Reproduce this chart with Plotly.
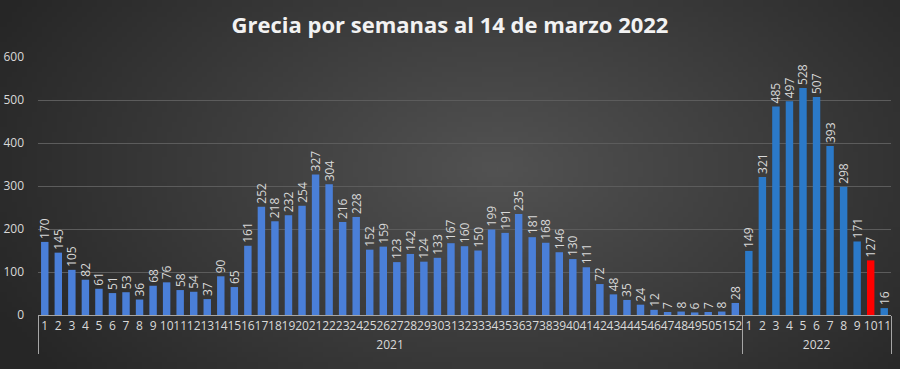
import base64, struct, zlib
import plotly.graph_objects as go

# ---- data ----
weeks_2021 = [str(i) for i in range(1, 53)]
values_2021 = [170, 145, 105, 82, 61, 51, 53, 36, 68, 76, 58, 54, 37, 90, 65, 161,
               252, 218, 232, 254, 327, 304, 216, 228, 152, 159, 123, 142, 124, 133,
               167, 160, 150, 199, 191, 235, 181, 168, 146, 130, 111, 72, 48, 35, 24,
               12, 7, 8, 6, 7, 8, 28]
weeks_2022 = [str(i) for i in range(1, 12)]
values_2022 = [149, 321, 485, 497, 528, 507, 393, 298, 171, 127, 16]
highlight_week_2022 = "10"

title_text = "Grecia por semanas al 14 de marzo 2022"

# ---- background gradient (radial) as png ----
def make_png(w, h):
    rows = []
    cx, cy = 0.55 * w, 0.45 * h
    for j in range(h):
        row = bytearray([0])
        for i in range(w):
            dx = (i - cx) / (0.62 * w)
            dy = (j - cy) / (0.9 * h)
            d = min(1.0, (dx * dx + dy * dy) ** 0.5)
            v = int(round(0x52 + (0x26 - 0x52) * d))
            row += bytes([v, v, v])
        rows.append(bytes(row))
    raw = b"".join(rows)
    def chunk(t, data):
        c = struct.pack(">I", len(data)) + t + data
        return c + struct.pack(">I", zlib.crc32(t + data) & 0xffffffff)
    png = b"\x89PNG\r\n\x1a\n" + chunk(b"IHDR", struct.pack(">IIBBBBB", w, h, 8, 2, 0, 0, 0))
    png += chunk(b"IDAT", zlib.compress(raw, 9)) + chunk(b"IEND", b"")
    return "data:image/png;base64," + base64.b64encode(png).decode()

bg = make_png(180, 74)

W, H = 900, 369
ML, MR, MT, MB = 38, 9, 57, 54
PW, PH = W - ML - MR, H - MT - MB

fig = go.Figure()
fig.add_trace(go.Bar(
    x=[["2021"] * len(weeks_2021), weeks_2021], y=values_2021,
    marker=dict(color="#4a7fd8", line=dict(width=0)),
    texttemplate="%{y}", textposition="outside", textangle=-90,
    textfont=dict(color="#d9d9d9", size=12, family="Open Sans"),
    constraintext="none", cliponaxis=False, showlegend=False, hoverinfo="y"))
colors_2022 = ["#ff0000" if w == highlight_week_2022 else "#2b79c8" for w in weeks_2022]
fig.add_trace(go.Bar(
    x=[["2022"] * len(weeks_2022), weeks_2022], y=values_2022,
    marker=dict(color=colors_2022, line=dict(width=0)),
    texttemplate="%{y}", textposition="outside", textangle=-90,
    textfont=dict(color="#d9d9d9", size=12, family="Open Sans"),
    constraintext="none", cliponaxis=False, showlegend=False, hoverinfo="y"))

fig.update_layout(
    width=W, height=H,
    margin=dict(l=ML, r=MR, t=MT, b=MB, autoexpand=False),
    paper_bgcolor="#3a3a3a", plot_bgcolor="rgba(0,0,0,0)",
    bargap=0.45,
    title=dict(text="<b>" + title_text + "</b>", x=0.5, xanchor="center",
               y=1 - 25 / H, yanchor="middle", automargin=False,
               font=dict(family="Open Sans", size=22, color="#f2f2f2")),
    font=dict(family="Open Sans", color="#d9d9d9", size=12),
    images=[dict(source=bg, xref="paper", yref="paper",
                 x=-ML / PW, y=1 + MT / PH, sizex=W / PW, sizey=H / PH,
                 xanchor="left", yanchor="top", sizing="stretch", layer="below")],
)
fig.update_yaxes(range=[0, 600], dtick=100, showgrid=True, gridcolor="#5c5c5c",
                 gridwidth=1, zeroline=False, showline=False, automargin=False,
                 tickfont=dict(color="#d9d9d9", size=12), ticklabelstandoff=13)
fig.update_xaxes(type="multicategory", showline=True, linecolor="#a6a6a6", linewidth=1,
                 showdividers=True, dividercolor="#a6a6a6", dividerwidth=1,
                 tickangle=0, automargin=False, nticks=200,
                 tickfont=dict(color="#d9d9d9", size=12), showgrid=False, ticks="")

fig.write_html("out.html", config={"displayModeBar": False},
               post_script="document.body.style.margin='0';document.body.style.overflow='hidden';")
